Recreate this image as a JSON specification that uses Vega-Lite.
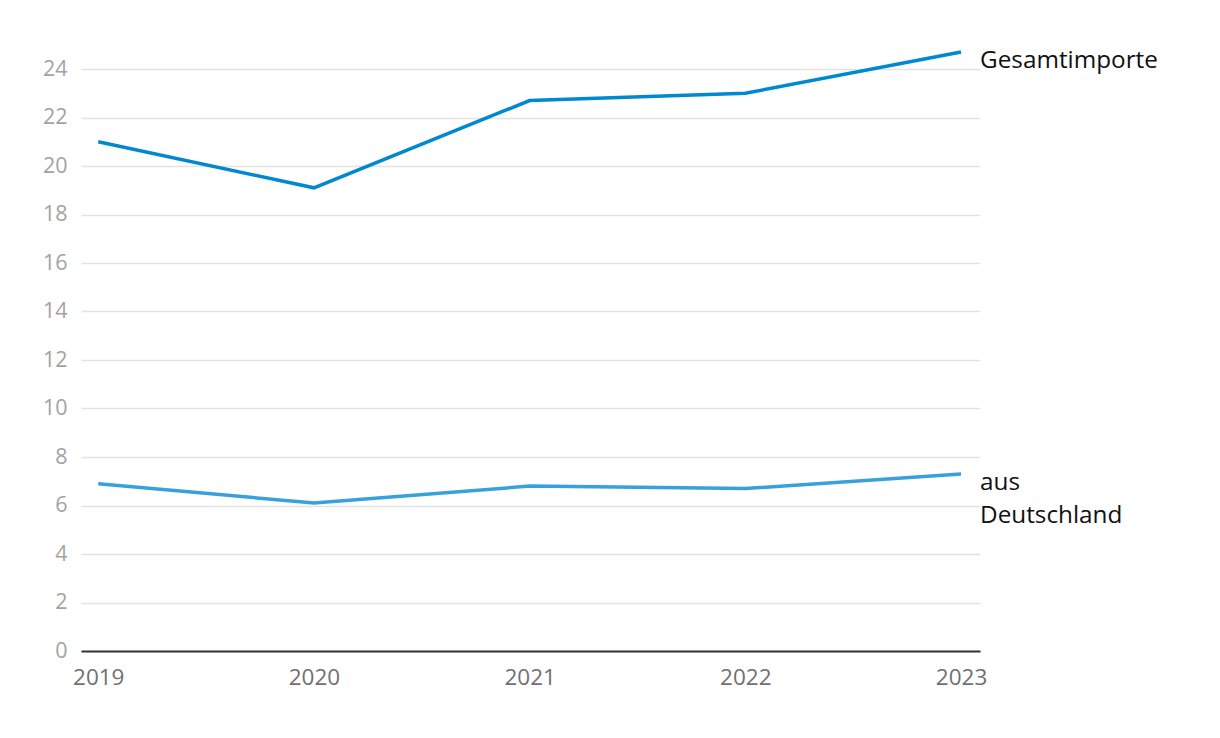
{
  "$schema": "https://vega.github.io/schema/vega-lite/v6.json",
  "width": 899,
  "height": 582,
  "autosize": {"type": "none"},
  "padding": {"left": 81, "top": 69, "right": 240, "bottom": 87},
  "background": "white",
  "config": {"view": {"stroke": null}, "font": "Open Sans"},
  "data": {"values": [
    {"year": 2019, "value": 21.0, "series": "Gesamtimporte"},
    {"year": 2020, "value": 19.1, "series": "Gesamtimporte"},
    {"year": 2021, "value": 22.7, "series": "Gesamtimporte"},
    {"year": 2022, "value": 23.0, "series": "Gesamtimporte"},
    {"year": 2023, "value": 24.7, "series": "Gesamtimporte", "label": ["Gesamtimporte"]},
    {"year": 2019, "value": 6.9, "series": "aus Deutschland"},
    {"year": 2020, "value": 6.1, "series": "aus Deutschland"},
    {"year": 2021, "value": 6.8, "series": "aus Deutschland"},
    {"year": 2022, "value": 6.7, "series": "aus Deutschland"},
    {"year": 2023, "value": 7.3, "series": "aus Deutschland", "label": ["aus", "Deutschland"]}
  ]},
  "encoding": {
    "x": {"field": "year", "type": "quantitative",
      "scale": {"domain": [2018.92, 2023.088], "nice": false, "zero": false},
      "axis": {"values": [2019, 2020, 2021, 2022, 2023], "format": "d", "title": null, "grid": false,
        "ticks": false, "domainColor": "#333333", "domainWidth": 2, "labelColor": "#707070",
        "labelFontSize": 22.5, "labelPadding": 15, "labelFont": "Open Sans"}},
    "y": {"field": "value", "type": "quantitative",
      "scale": {"domain": [0, 24], "nice": false},
      "axis": {"values": [0, 2, 4, 6, 8, 10, 12, 14, 16, 18, 20, 22, 24], "title": null, "domain": false,
        "ticks": false, "gridColor": "#e3e3e3", "gridWidth": 1.5, "labelColor": "#a3a3a3",
        "labelFontSize": 21.5, "labelPadding": 14, "labelFont": "Open Sans"}},
    "color": {"field": "series", "type": "nominal",
      "scale": {"domain": ["Gesamtimporte", "aus Deutschland"], "range": ["#0088d1", "#37a1dc"]},
      "legend": null}
  },
  "layer": [
    {"mark": {"type": "line", "strokeWidth": 3.5, "clip": false}},
    {"transform": [{"filter": "datum.label != null"}],
      "mark": {"type": "text", "align": "left", "baseline": "alphabetic", "dx": 19, "dy": 16,
        "fontSize": 24.3, "lineHeight": 33, "color": "#111111", "font": "Open Sans"},
      "encoding": {"text": {"field": "label"}, "color": {"value": "#111111"}}}
  ]
}
